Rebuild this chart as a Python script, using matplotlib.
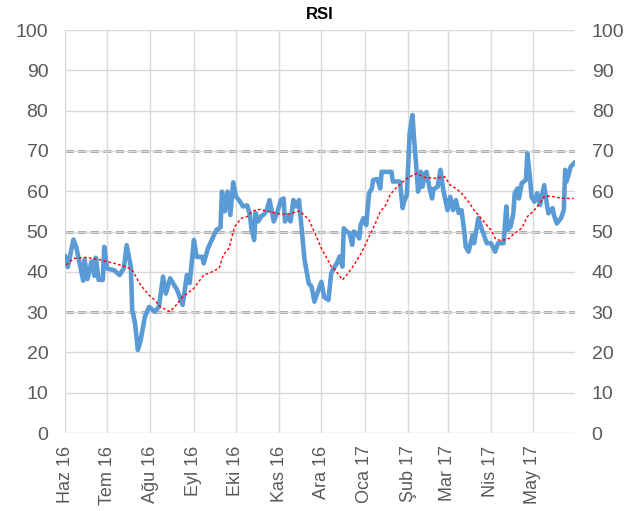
import numpy as np
import matplotlib
matplotlib.use("Agg")
import matplotlib.pyplot as plt

start = np.datetime64("2016-06-01")

# RSI (days since 1 Jun 2016, value)
rsi_days = [0, 2, 6, 8, 13, 14, 16, 19, 21, 22, 24, 27, 28, 30, 35, 39, 42, 44, 47, 48,
            50, 52, 54, 57, 60, 64, 67, 70, 72, 75, 80, 84, 87, 89, 92, 94, 98, 99, 102, 108,
            111, 112, 114, 116, 118, 120, 122, 125, 127, 130, 132, 133, 135, 136, 138, 140, 142, 144, 146, 149,
            152, 154, 156, 157, 159, 161, 163, 165, 167, 169, 171, 174, 176, 178, 180, 183, 185, 188, 190, 191,
            194, 196, 198, 199, 201, 203, 205, 206, 208, 210, 211, 213, 215, 217, 219, 220, 223, 225, 226, 233,
            234, 239, 241, 242, 244, 246, 248, 249, 251, 252, 254, 255, 257, 258, 260, 262, 263, 266, 268, 270,
            273, 275, 277, 279, 281, 283, 285, 286, 288, 291, 292, 295, 297, 299, 301, 304, 307, 309, 313, 315,
            316, 318, 320, 321, 323, 324, 326, 329, 330, 332, 333, 335, 337, 339, 342, 344, 345, 348, 349, 351,
            354, 356, 357, 358, 361, 364]
rsi_vals = [44.0, 41.2, 48.0, 46.2, 37.8, 43.0, 38.2, 42.6, 39.0, 43.5, 38.0, 38.0, 46.2, 40.8, 40.4, 39.2, 40.9, 46.6, 41.2, 30.5,
            27.2, 20.6, 23.0, 28.8, 31.3, 30.1, 31.3, 38.8, 34.6, 38.4, 35.5, 31.8, 39.2, 37.2, 47.9, 43.7, 43.7, 42.1, 45.8, 50.4,
            51.0, 59.9, 55.0, 59.9, 54.1, 62.2, 58.7, 57.4, 56.2, 56.5, 54.1, 50.8, 47.9, 54.6, 52.5, 53.8, 54.2, 55.3, 57.8, 52.5,
            55.3, 57.8, 58.2, 52.5, 54.0, 52.5, 57.8, 56.2, 57.8, 50.4, 42.9, 37.1, 36.3, 32.6, 34.6, 37.5, 33.7, 33.0, 39.6, 40.4,
            42.1, 43.8, 41.3, 50.8, 50.0, 49.6, 46.7, 50.0, 49.6, 48.3, 51.6, 53.3, 51.6, 59.5, 60.7, 62.8, 63.0, 60.7, 64.8, 64.8,
            62.4, 62.4, 55.8, 57.4, 59.1, 74.4, 78.9, 73.7, 64.8, 59.9, 64.8, 61.1, 64.3, 64.8, 61.1, 58.2, 60.5, 61.1, 65.3, 60.3,
            55.3, 58.6, 55.3, 57.8, 54.6, 55.3, 50.0, 46.2, 45.0, 49.1, 47.1, 53.3, 51.0, 49.1, 47.1, 47.1, 45.0, 47.1, 47.1, 56.2,
            50.4, 51.2, 54.5, 59.5, 60.7, 58.2, 62.0, 62.8, 69.4, 62.8, 58.6, 57.4, 59.5, 56.6, 61.5, 56.6, 54.5, 55.8, 54.1, 52.0,
            53.3, 55.3, 65.3, 62.4, 66.1, 67.2]

# signal line (moving average)
sig_days = [1, 6, 15, 25, 35, 44, 48, 54, 60, 64, 68, 75, 80, 84, 92, 99, 105, 110, 113, 117,
            121, 126, 130, 134, 139, 146, 154, 161, 167, 170, 174, 179, 183, 187, 190, 193, 198, 202, 207, 212,
            217, 221, 225, 229, 232, 236, 240, 245, 251, 257, 264, 271, 275, 279, 283, 288, 292, 296, 300, 304,
            307, 311, 317, 321, 326, 330, 334, 338, 342, 346, 352, 358, 363]
sig_vals = [41.7, 43.3, 43.6, 43.0, 42.1, 41.2, 40.4, 36.7, 34.2, 33.0, 31.3, 30.1, 32.0, 33.8, 35.9, 39.2, 40.0, 40.9, 44.2, 45.8,
            51.2, 53.3, 53.7, 55.1, 55.5, 54.9, 54.3, 54.4, 55.1, 54.3, 52.9, 49.1, 45.8, 43.3, 41.3, 40.4, 38.0, 39.6, 42.1, 45.0,
            48.7, 51.6, 54.9, 56.6, 59.1, 60.7, 62.0, 63.4, 64.4, 63.4, 63.2, 63.6, 61.5, 60.7, 59.5, 57.4, 55.3, 53.7, 52.0, 50.4,
            48.3, 47.7, 48.3, 49.6, 50.8, 53.7, 54.9, 56.6, 58.6, 58.8, 58.4, 58.2, 58.2]

month_labels = ["Haz 16", "Tem 16", "Ağu 16", "Eyl 16", "Eki 16", "Kas 16",
                "Ara 16", "Oca 17", "Şub 17", "Mar 17", "Nis 17", "May 17"]
levels = [30, 50, 70]

rsi_dates = start + np.array(rsi_days).astype("timedelta64[D]")
sig_dates = start + np.array(sig_days).astype("timedelta64[D]")
month_ticks = np.arange(np.datetime64("2016-06"), np.datetime64("2017-06")).astype("datetime64[D]")

plt.rcParams["font.family"] = ["Liberation Sans", "DejaVu Sans"]

fig = plt.figure(figsize=(6.44, 5.11), dpi=100)
ax = fig.add_axes([65 / 644, 1 - 433 / 511, 510 / 644, 403 / 511])

ax.grid(True, color="#d9d9d9", linewidth=1.0, zorder=0)
for lv in levels:
    ax.axhline(lv, color="#a6a6a6", linewidth=2.16, dashes=(2.7, 1.5),
               solid_capstyle="butt", dash_capstyle="butt", zorder=1)

ax.plot(rsi_dates, rsi_vals, color="#5b9bd5", linewidth=3.3,
        solid_joinstyle="round", solid_capstyle="round", zorder=3)
ax.plot(sig_dates, sig_vals, color="#ff0000", linewidth=1.0, dashes=(2, 1.6), zorder=4)

ax.set_ylim(0, 100)
ax.set_yticks(range(0, 101, 10))
ax.set_xlim(start, start + np.timedelta64(364, "D"))
ax.set_xticks(month_ticks)
ax.set_xticklabels(month_labels, rotation=90, ha="center", va="top")

for s in ax.spines.values():
    s.set_visible(False)
ax.tick_params(axis="y", length=0, labelsize=14, labelcolor="#595959",
               labelright=True, pad=12)
ax.tick_params(axis="x", length=0, labelsize=13, labelcolor="#595959", pad=9)

ax.set_title("RSI", fontsize=12, fontweight="bold", color="#000000", pad=8)

fig.savefig("out.png", dpi=100)
